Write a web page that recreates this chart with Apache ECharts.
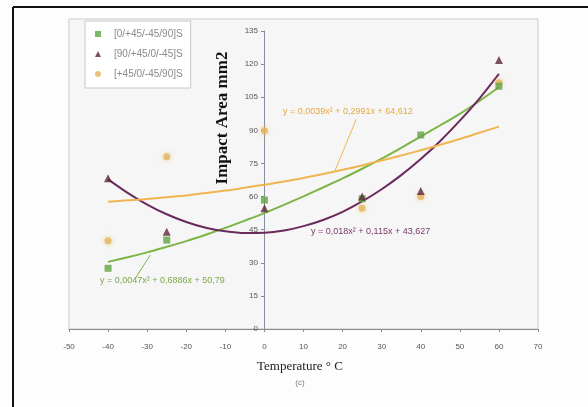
<!DOCTYPE html>
<html><head><meta charset="utf-8">
<script src="https://cdn.jsdelivr.net/npm/echarts@6/dist/echarts.min.js"></script>
<style>html,body{margin:0;padding:0;background:#fdfdfd}#c{width:588px;height:407px}</style>
</head><body><div id="c"></div>
<script>
var temps = [-40, -25, 0, 25, 40, 60];
var names = ['[0/+45/-45/90]S', '[90/+45/0/-45]S', '[+45/0/-45/90]S'];
var greenVals = [27.5, 40.3, 58.4, 59, 87.9, 110];
var purpleVals = [68.3, 44, 54.7, 60, 62.5, 121.9];
var orangeVals = [40, 78, 89.8, 54.7, 60, 111.6];
var trendX = [-40, -35, -30, -25, -20, -15, -10, -5, 0, 5, 10, 15, 20, 25, 30, 35, 40, 45, 50, 55, 60];
var greenTrend = [30.4, 32.5, 34.7, 37.2, 39.8, 42.7, 45.8, 49.1, 52.5, 56.2, 60.1, 64.1, 68.2, 72.6, 77.2, 82.1, 87.2, 92.3, 97.5, 103.3, 109.5];
var purpleTrend = [67.8, 61.7, 56.4, 52.0, 48.5, 45.9, 44.3, 43.5, 43.6, 44.6, 46.6, 49.4, 53.1, 57.8, 63.3, 69.7, 77.0, 85.2, 94.4, 104.4, 115.6];
var orangeTrend = [57.7, 58.3, 58.9, 59.7, 60.5, 61.6, 62.7, 64.0, 65.3, 66.8, 68.4, 70.2, 72.1, 74.1, 76.3, 78.6, 81.0, 83.5, 86.1, 88.9, 91.7];
var xTicks = [-50, 70, 10];
var yTicks = [0, 135, 15];
var equations = ['y = 0,0047x² + 0,6886x + 50,79', 'y = 0,018x² + 0,115x + 43,627', 'y = 0,0039x² + 0,2991x + 64,612'];

var cGreen = '#7bb545', cPurple = '#6a2a5c', cOrange = '#efb650';
function pairs(xs, ys) { return xs.map(function (x, i) { return [x, ys[i]]; }); }

var chart = echarts.init(document.getElementById('c'), null, {renderer: 'canvas'});
var option = {
  backgroundColor: '#fdfdfd',
  animation: false,
  grid: {left: 69, right: 50, top: 31, bottom: 78, show: false},
  xAxis: {
    type: 'value', min: xTicks[0], max: xTicks[1], interval: xTicks[2],
    axisLine: {onZero: false, lineStyle: {color: '#8a8a8a', width: 1}},
    axisTick: {show: true, length: 3, lineStyle: {color: '#8a8a8a'}},
    axisLabel: {color: '#555', fontSize: 8, margin: 14, fontFamily: 'Liberation Sans'},
    splitLine: {show: false}
  },
  yAxis: {
    type: 'value', min: yTicks[0], max: yTicks[1], interval: yTicks[2],
    position: 'left', offset: -195,
    axisLine: {show: true, onZero: false, lineStyle: {color: '#8a8fa0', width: 1}},
    axisTick: {show: true, length: 3, lineStyle: {color: '#8a8a8a'}},
    axisLabel: {color: '#555', fontSize: 8, margin: 6, fontFamily: 'Liberation Sans'},
    splitLine: {show: false}
  },
  legend: {
    left: 85, top: 21, orient: 'vertical',
    data: names,
    backgroundColor: '#ffffff', borderColor: '#c8c8c8', borderWidth: 1,
    padding: [8, 8, 9, 10], itemGap: 10, itemWidth: 6, itemHeight: 6,
    textStyle: {color: '#8a8a8a', fontSize: 10, fontFamily: 'Liberation Sans', padding: [0, 0, 0, 8], lineHeight: 10}
  },
  series: [
    {name: 'gt', type: 'line', data: pairs(trendX, greenTrend), smooth: 0.3, symbol: 'none',
      lineStyle: {color: cGreen, width: 2}, z: 2,
      markLine: {symbol: 'none', silent: true, label: {show: false},
        lineStyle: {color: cGreen, width: 1, type: 'solid'},
        data: [[{coord: [-29.2, 33.5]}, {coord: [-33, 23]}]]}},
    {name: 'pt', type: 'line', data: pairs(trendX, purpleTrend), smooth: 0.3, symbol: 'none',
      lineStyle: {color: cPurple, width: 2}, z: 2},
    {name: 'ot', type: 'line', data: pairs(trendX, orangeTrend), smooth: 0.3, symbol: 'none',
      lineStyle: {color: cOrange, width: 2}, z: 2,
      markLine: {symbol: 'none', silent: true, label: {show: false},
        lineStyle: {color: cOrange, width: 1, type: 'solid'},
        data: [[{coord: [23.5, 95]}, {coord: [18, 71.5]}]]}},
    {name: names[0], type: 'scatter', data: pairs(temps, greenVals), symbol: 'rect', symbolSize: 7,
      itemStyle: {color: '#5fa443'}, z: 4},
    {name: names[1], type: 'scatter', data: pairs(temps, purpleVals), symbol: 'triangle', symbolSize: 8,
      itemStyle: {color: '#5a2838'}, z: 5},
    {name: names[2], type: 'scatter', data: pairs(temps, orangeVals), symbol: 'circle', symbolSize: 7,
      itemStyle: {color: '#e3b460', shadowColor: 'rgba(240,190,90,0.8)', shadowBlur: 5}, z: 3}
  ],
  graphic: [
    {type: 'rect', shape: {x: 69, y: 19, width: 469, height: 310}, style: {fill: '#f6f6f6', stroke: '#c9c9c9', lineWidth: 1}, z: -10},
    {type: 'line', shape: {x1: 13, y1: 7, x2: 588, y2: 7}, style: {stroke: '#111', lineWidth: 2}},
    {type: 'line', shape: {x1: 13, y1: 7, x2: 13, y2: 407}, style: {stroke: '#111', lineWidth: 2}},
    {type: 'text', x: 100, y: 281, style: {text: equations[0], fill: '#7aa84a', fontSize: 9, fontFamily: 'Liberation Sans', textVerticalAlign: 'middle'}, z: 10},
    {type: 'text', x: 311, y: 232, style: {text: equations[1], fill: '#7a3a6a', fontSize: 9, fontFamily: 'Liberation Sans', textVerticalAlign: 'middle'}, z: 10},
    {type: 'text', x: 283, y: 112, style: {text: equations[2], fill: '#e4a944', fontSize: 9, fontFamily: 'Liberation Sans', textVerticalAlign: 'middle'}, z: 10},
    {type: 'text', x: 223, y: 118, rotation: Math.PI / 2, style: {text: 'Impact Area mm2', fill: '#111', fontSize: 17, fontWeight: 'bold', fontFamily: 'Liberation Serif', textAlign: 'center', textVerticalAlign: 'middle'}, z: 10},
    {type: 'text', x: 300, y: 367, style: {text: 'Temperature ° C', fill: '#222', fontSize: 13, fontFamily: 'Liberation Serif', textAlign: 'center', textVerticalAlign: 'middle'}, z: 10},
    {type: 'text', x: 300, y: 383, style: {text: '(c)', fill: '#777', fontSize: 8, fontFamily: 'Liberation Sans', textAlign: 'center', textVerticalAlign: 'middle'}, z: 10}
  ]
};
chart.setOption(option);
</script></body></html>
